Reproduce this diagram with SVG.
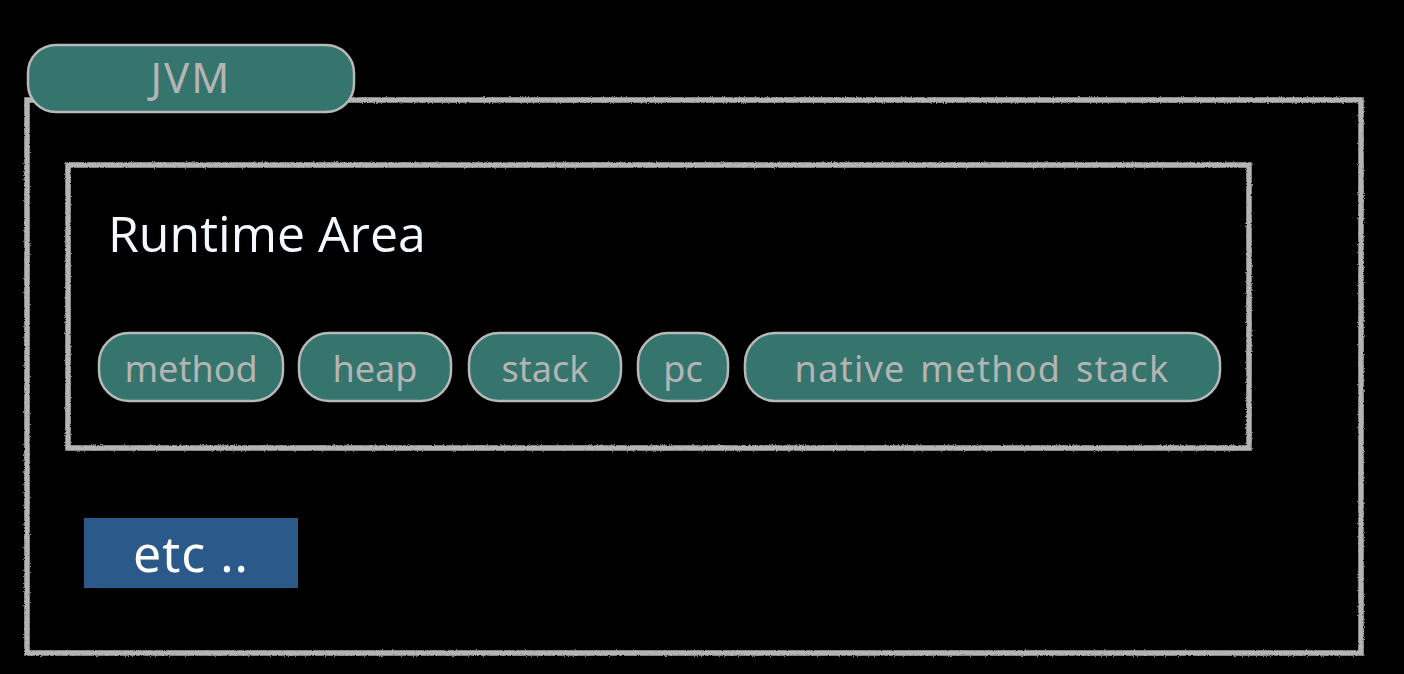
<svg xmlns="http://www.w3.org/2000/svg" width="1404" height="674" viewBox="0 0 1404 674">
<style>
.frame{fill:none;stroke:#b4b4b4;stroke-width:5.5;filter:url(#chalk)}
.pill{fill:#35756d;stroke:#b8b8b8;stroke-width:2.5}
.pt{font-family:"Noto Sans","DejaVu Sans",sans-serif;font-size:36px;fill:#b4b4b4;text-anchor:middle}
</style>
<defs>
<filter id="chalk" x="-2%" y="-2%" width="104%" height="104%">
<feTurbulence type="fractalNoise" baseFrequency="0.9" numOctaves="2" seed="3" result="n"/>
<feDisplacementMap in="SourceGraphic" in2="n" scale="2.5" xChannelSelector="R" yChannelSelector="G"/>
</filter>
</defs>
<rect width="1404" height="674" fill="#000"/>
<g id="jvm-frame"><rect class="frame" x="27" y="100" width="1334" height="553"/></g>
<g id="jvm-label">
<rect class="pill" x="28" y="45" width="326" height="67" rx="28"/>
<line x1="32" y1="100" x2="350" y2="100" stroke="#6fb0a6" stroke-width="5" opacity="0.6" filter="url(#chalk)"/>
<text class="pt" x="191" y="93" style="font-size:42px;letter-spacing:2px">JVM</text>
</g>
<g id="runtime-area">
<rect class="frame" x="68" y="165" width="1181" height="283"/>
<text x="108" y="252" font-family="'Open Sans','DejaVu Sans',sans-serif" font-size="50" fill="#f4f8ff">Runtime Area</text>
</g>
<g id="method"><rect class="pill" x="99" y="333" width="184" height="68" rx="30"/><text class="pt" x="191" y="382">method</text></g>
<g id="heap"><rect class="pill" x="299" y="333" width="152" height="68" rx="30"/><text class="pt" x="375" y="382">heap</text></g>
<g id="stack"><rect class="pill" x="469" y="333" width="152" height="68" rx="30"/><text class="pt" x="545" y="382">stack</text></g>
<g id="pc"><rect class="pill" x="638" y="333" width="90" height="68" rx="30"/><text class="pt" x="683" y="382">pc</text></g>
<g id="native-method-stack"><rect class="pill" x="745" y="333" width="475" height="68" rx="30"/><text class="pt" x="982" y="382" style="letter-spacing:1.3px;word-spacing:4px">native method stack</text></g>
<g id="etc"><rect x="84" y="518" width="214" height="70" fill="#2b5a8a"/><text x="191" y="572" font-family="'Noto Sans','DejaVu Sans',sans-serif" font-size="50" fill="#ffffff" text-anchor="middle" letter-spacing="1">etc ..</text></g>
<g id="connectors"/>
</svg>
